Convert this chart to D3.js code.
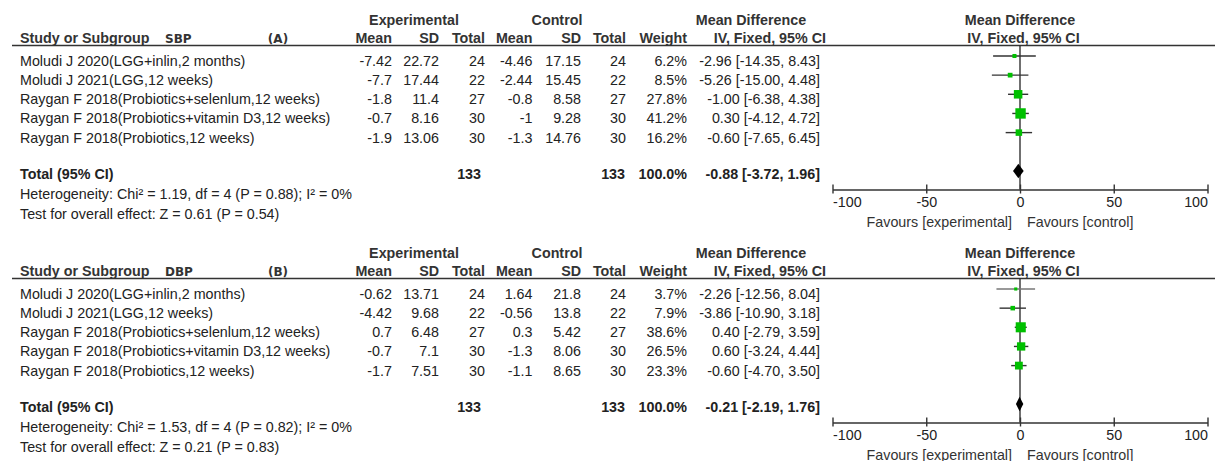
<!DOCTYPE html>
<html>
<head>
<meta charset="utf-8">
<script src="https://cdn.jsdelivr.net/npm/d3@7"></script>
<style>
  html, body { margin: 0; padding: 0; background: #fff; }
  svg { display: block; }
  text { font-family: "Liberation Sans", Arial, Helvetica, sans-serif; fill: #222; }
</style>
</head>
<body>
<svg id="chart" width="1215" height="461"></svg>
<script>
// ---- Study labels (shared by both outcomes) ----
const studies = [
  "Moludi J 2020(LGG+inlin,2 months)",
  "Moludi J 2021(LGG,12 weeks)",
  "Raygan F 2018(Probiotics+selenlum,12 weeks)",
  "Raygan F 2018(Probiotics+vitamin D3,12 weeks)",
  "Raygan F 2018(Probiotics,12 weeks)"
];

// ---- SBP (A) ----
const sbpExpMean = [-7.42, -7.7, -1.8, -0.7, -1.9];
const sbpExpSD   = [22.72, 17.44, 11.4, 8.16, 13.06];
const sbpExpN    = [24, 22, 27, 30, 30];
const sbpCtlMean = [-4.46, -2.44, -0.8, -1, -1.3];
const sbpCtlSD   = [17.15, 15.45, 8.58, 9.28, 14.76];
const sbpCtlN    = [24, 22, 27, 30, 30];
const sbpWeight  = [6.2, 8.5, 27.8, 41.2, 16.2];
const sbpMD      = [-2.96, -5.26, -1.00, 0.30, -0.60];
const sbpLo      = [-14.35, -15.00, -6.38, -4.12, -7.65];
const sbpHi      = [8.43, 4.48, 4.38, 4.72, 6.45];
const sbpPooled  = [-0.88, -3.72, 1.96];   // MD, lower, upper
const sbpTotals  = [133, 133, 100.0];       // exp N, control N, weight
const sbpHet     = "Heterogeneity: Chi\u00B2 = 1.19, df = 4 (P = 0.88); I\u00B2 = 0%";
const sbpTest    = "Test for overall effect: Z = 0.61 (P = 0.54)";

// ---- DBP (B) ----
const dbpExpMean = [-0.62, -4.42, 0.7, -0.7, -1.7];
const dbpExpSD   = [13.71, 9.68, 6.48, 7.1, 7.51];
const dbpExpN    = [24, 22, 27, 30, 30];
const dbpCtlMean = [1.64, -0.56, 0.3, -1.3, -1.1];
const dbpCtlSD   = [21.8, 13.8, 5.42, 8.06, 8.65];
const dbpCtlN    = [24, 22, 27, 30, 30];
const dbpWeight  = [3.7, 7.9, 38.6, 26.5, 23.3];
const dbpMD      = [-2.26, -3.86, 0.40, 0.60, -0.60];
const dbpLo      = [-12.56, -10.90, -2.79, -3.24, -4.70];
const dbpHi      = [8.04, 3.18, 3.59, 4.44, 3.50];
const dbpPooled  = [-0.21, -2.19, 1.76];
const dbpTotals  = [133, 133, 100.0];
const dbpHet     = "Heterogeneity: Chi\u00B2 = 1.53, df = 4 (P = 0.82); I\u00B2 = 0%";
const dbpTest    = "Test for overall effect: Z = 0.21 (P = 0.83)";

// ---- Axis ----
const axisTicks = [-100, -50, 0, 50, 100];
const axisDomain = [-100, 100];

const FS = 14.3;
const svg = d3.select("#chart");
const x = d3.scaleLinear().domain(axisDomain).range([832.5, 1207.5]);
const boxSide = d3.scaleSqrt().domain([0, 41.2]).range([0, 10.4]);

// right edges of the numeric columns
const col = { expMean: 392, expSD: 439, expN: 485, ctlMean: 532.5, ctlSD: 581, ctlN: 626, weight: 687, ci: 820 };

const f2 = v => v.toFixed(2);
const fmtCI = (m, l, h) => `${f2(m)} [${f2(l)}, ${f2(h)}]`;

function panel(oy, p) {
  const g = svg.append("g");
  const rowY = d3.scaleLinear().domain([0, 4]).range([oy + 61, oy + 137.6]);

  const txt = (xx, yy, s, opt = {}) => g.append("text")
    .attr("x", xx).attr("y", yy)
    .attr("text-anchor", opt.anchor || "start")
    .attr("font-size", opt.size || FS)
    .attr("font-weight", opt.bold ? "bold" : null)
    .style("font-family", opt.family || null)
    .style("fill", opt.fill || null)
    .text(s);

  // group headers
  txt(414, oy + 25, "Experimental", { anchor: "middle", bold: true, fill: "#333" });
  txt(557, oy + 25, "Control", { anchor: "middle", bold: true, fill: "#333" });
  txt(751, oy + 25, "Mean Difference", { anchor: "middle", bold: true, fill: "#333" });
  txt(1020, oy + 25, "Mean Difference", { anchor: "middle", bold: true, fill: "#333" });

  // column headers
  txt(20, oy + 43, "Study or Subgroup", { bold: true, fill: "#333" });
  txt(165, oy + 43, p.tag, { bold: true, size: 12, family: "'DejaVu Sans', sans-serif", fill: "#333" });
  txt(278, oy + 43, p.panel, { bold: true, size: 12, anchor: "middle", family: "'DejaVu Sans', sans-serif", fill: "#333" });
  [["Mean", col.expMean], ["SD", col.expSD], ["Total", col.expN], ["Mean", col.ctlMean],
   ["SD", col.ctlSD], ["Total", col.ctlN], ["Weight", col.weight], ["IV, Fixed, 95% CI", 826]]
    .forEach(([s, xx]) => txt(xx, oy + 43, s, { anchor: "end", bold: true, fill: "#333" }));
  txt(1023.5, oy + 43, "IV, Fixed, 95% CI", { anchor: "middle", bold: true, fill: "#333" });

  // header rule
  g.append("line").attr("x1", 12).attr("x2", 1215).attr("y1", oy + 45.5).attr("y2", oy + 45.5)
    .attr("stroke", "#333").attr("stroke-width", 1.3);

  // study rows
  studies.forEach((s, i) => {
    const yb = rowY(i) + 5;
    txt(20, yb, s);
    txt(col.expMean, yb, String(p.expMean[i]), { anchor: "end" });
    txt(col.expSD, yb, String(p.expSD[i]), { anchor: "end" });
    txt(col.expN, yb, String(p.expN[i]), { anchor: "end" });
    txt(col.ctlMean, yb, String(p.ctlMean[i]), { anchor: "end" });
    txt(col.ctlSD, yb, String(p.ctlSD[i]), { anchor: "end" });
    txt(col.ctlN, yb, String(p.ctlN[i]), { anchor: "end" });
    txt(col.weight, yb, p.weight[i].toFixed(1) + "%", { anchor: "end" });
    txt(col.ci, yb, fmtCI(p.md[i], p.lo[i], p.hi[i]), { anchor: "end" });
  });

  // total row
  const tb = oy + 179;
  txt(20, tb, "Total (95% CI)", { bold: true });
  txt(col.expN - 4, tb, String(p.totals[0]), { anchor: "end", bold: true });
  txt(col.ctlN - 1, tb, String(p.totals[1]), { anchor: "end", bold: true });
  txt(col.weight, tb, p.totals[2].toFixed(1) + "%", { anchor: "end", bold: true });
  txt(col.ci, tb, fmtCI(p.pooled[0], p.pooled[1], p.pooled[2]), { anchor: "end", bold: true });
  txt(20, oy + 199, p.het);
  txt(20, oy + 218.5, p.test);

  // forest plot
  const axisY = oy + 189.5;
  g.append("line").attr("x1", x(0)).attr("x2", x(0)).attr("y1", oy + 45.5).attr("y2", axisY)
    .attr("stroke", "#222").attr("stroke-width", 1.3);

  studies.forEach((s, i) => {
    const yy = rowY(i) - 5;
    g.append("line").attr("x1", x(p.lo[i])).attr("x2", x(p.hi[i])).attr("y1", yy).attr("y2", yy)
      .attr("stroke", p.whisker[i]).attr("stroke-width", 1.4);
    const side = boxSide(p.weight[i]);
    g.append("rect").attr("x", x(p.md[i]) - side / 2).attr("y", yy - side / 2)
      .attr("width", side).attr("height", side).attr("fill", "#00c000");
  });

  // pooled diamond
  const dy = oy + 171, dh = 7.2;
  g.append("path")
    .attr("d", `M${x(p.pooled[1])},${dy} L${x(p.pooled[0])},${dy - dh} L${x(p.pooled[2])},${dy} L${x(p.pooled[0])},${dy + dh} Z`)
    .attr("fill", "#000");

  // axis
  const ax = g.append("g").attr("transform", `translate(0,${axisY})`)
    .call(d3.axisBottom(x).tickValues(axisTicks).tickSizeOuter(0));
  ax.select(".domain").attr("stroke", "#333").attr("stroke-width", 1.6);
  ax.selectAll(".tick line").attr("y1", -5).attr("y2", 4).attr("stroke", "#333").attr("stroke-width", 1.4);
  ax.selectAll(".tick text").attr("y", 17.5).attr("dy", null)
    .attr("font-size", FS).style("font-family", "'Liberation Sans', Arial, sans-serif").style("fill", "#222")
    .attr("text-anchor", d => d === axisDomain[0] ? "start" : d === axisDomain[1] ? "end" : "middle")
    .text(d => d < 0 ? "-" + Math.abs(d) : String(d));

  txt(x(0) - 8, oy + 226.5, "Favours [experimental]", { anchor: "end", fill: "#333" });
  txt(x(0) + 7, oy + 226.5, "Favours [control]", { fill: "#333" });
}

panel(0, {
  tag: "SBP", panel: "(A)",
  expMean: sbpExpMean, expSD: sbpExpSD, expN: sbpExpN,
  ctlMean: sbpCtlMean, ctlSD: sbpCtlSD, ctlN: sbpCtlN,
  weight: sbpWeight, md: sbpMD, lo: sbpLo, hi: sbpHi,
  pooled: sbpPooled, totals: sbpTotals, het: sbpHet, test: sbpTest,
  whisker: ["#333", "#333", "#333", "#333", "#333"]
});

panel(233, {
  tag: "DBP", panel: "(B)",
  expMean: dbpExpMean, expSD: dbpExpSD, expN: dbpExpN,
  ctlMean: dbpCtlMean, ctlSD: dbpCtlSD, ctlN: dbpCtlN,
  weight: dbpWeight, md: dbpMD, lo: dbpLo, hi: dbpHi,
  pooled: dbpPooled, totals: dbpTotals, het: dbpHet, test: dbpTest,
  whisker: ["#777", "#333", "#333", "#333", "#333"]
});
</script>
</body>
</html>
